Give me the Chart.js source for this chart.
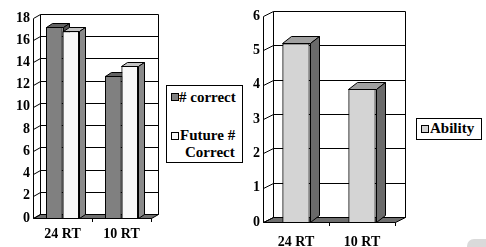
<!DOCTYPE html>
<html>
<head>
<meta charset="utf-8">
<script src="https://cdn.jsdelivr.net/npm/chart.js@4.4.1/dist/chart.umd.min.js"></script>
<style>
    body { margin: 0; width: 486px; height: 247px; background: #fff; position: relative; overflow: hidden; font-family: "Liberation Serif", "Times New Roman", serif; }
    canvas { position: absolute; top: 0; }
    #leftChart { left: 0; }
    #rightChart { left: 248px; }
    .legend { position: absolute; border: 1px solid #000; background: #fff; font-weight: bold; font-size: 15px; line-height: 17px; color: #000; }
    .legend span { position: absolute; white-space: nowrap; }
    .legend .sw { width: 6px; height: 6px; border: 1px solid #000; }
    .corner { position: absolute; left: 467px; top: 239px; width: 30px; height: 12px; background: #dadada; border-radius: 7px 0 0 0; }
</style>
</head>
<body>
<canvas id="leftChart" width="165" height="247"></canvas>
<canvas id="rightChart" width="162" height="247"></canvas>

<div class="legend" id="leftLegend" style="left:166px; top:85px; width:75px; height:76px;">
    <span class="sw" style="left:4px; top:7px; background:#808080;"></span>
    <span style="left:12px; top:3px;">#&nbsp;correct</span>
    <span class="sw" style="left:4px; top:46px; background:#f8f8f8;"></span>
    <span style="left:13px; top:41px;">Future #</span>
    <span style="left:18px; top:58px;">Correct</span>
</div>
<div class="legend" id="rightLegend" style="left:416px; top:118px; width:64px; height:20px;">
    <span class="sw" style="left:4px; top:6px; background:#d4d4d4;"></span>
    <span style="left:13px; top:1px;">Ability</span>
</div>
<div class="corner"></div>

<script>
const categories = ['24 RT', '10 RT'];
const correct = [17.2, 12.8];
const futureCorrect = [16.8, 13.7];
const ability = [5.2, 3.88];
const leftTicks = [0, 2, 4, 6, 8, 10, 12, 14, 16, 18];
const rightTicks = [0, 1, 2, 3, 4, 5, 6];

const fontFamily = '"Liberation Serif", "Times New Roman", serif';

// draws the walls, floor and the side/top faces of the bars
const threeD = {
    id: 'threeD',
    beforeDatasetsDraw(chart, args, opts) {
        const { ctx, chartArea: a, scales: { y } } = chart;
        const dx = opts.dx, dy = opts.dy;
        ctx.save();
        ctx.strokeStyle = '#000';
        ctx.lineWidth = 1;

        // floor
        ctx.fillStyle = opts.floor;
        ctx.beginPath();
        ctx.moveTo(a.left + 0.5, a.bottom + 0.5);
        ctx.lineTo(a.right + 0.5, a.bottom + 0.5);
        ctx.lineTo(a.right + dx + 0.5, a.bottom - dy + 0.5);
        ctx.lineTo(a.left + dx + 0.5, a.bottom - dy + 0.5);
        ctx.closePath();
        ctx.fill();
        ctx.stroke();

        // gridlines across side wall and back wall
        y.ticks.forEach(t => {
            const py = Math.round(y.getPixelForValue(t.value)) + 0.5;
            ctx.beginPath();
            ctx.moveTo(a.left + 0.5, py);
            ctx.lineTo(a.left + dx + 0.5, py - dy);
            ctx.lineTo(a.right + dx + 0.5, py - dy);
            ctx.stroke();
        });

        // back wall edges and front axis
        ctx.beginPath();
        ctx.moveTo(a.left + dx + 0.5, a.top - dy + 0.5);
        ctx.lineTo(a.left + dx + 0.5, a.bottom - dy + 0.5);
        ctx.moveTo(a.right + dx + 0.5, a.top - dy + 0.5);
        ctx.lineTo(a.right + dx + 0.5, a.bottom - dy + 0.5);
        ctx.moveTo(a.left + 0.5, a.top + 0.5);
        ctx.lineTo(a.left + 0.5, a.bottom + 0.5);
        ctx.stroke();
        ctx.restore();
    },
    afterDatasetsDraw(chart, args, opts) {
        const ctx = chart.ctx;
        const bdx = opts.barDx, bdy = opts.barDy;
        ctx.save();
        ctx.strokeStyle = '#000';
        ctx.lineWidth = 1;
        chart.data.datasets.forEach((ds, i) => {
            const meta = chart.getDatasetMeta(i);
            meta.data.forEach(bar => {
                bar.draw(ctx);
                const { x, y, base, width } = bar.getProps(['x', 'y', 'base', 'width'], true);
                const l = Math.round(x - width / 2) + 0.5;
                const r = Math.round(x + width / 2) + 0.5;
                const t = Math.round(y) + 0.5;
                const b = Math.round(base) + 0.5;

                ctx.fillStyle = ds.topColor;
                ctx.beginPath();
                ctx.moveTo(l, t);
                ctx.lineTo(l + bdx, t - bdy);
                ctx.lineTo(r + bdx, t - bdy);
                ctx.lineTo(r, t);
                ctx.closePath();
                ctx.fill();
                ctx.stroke();

                ctx.fillStyle = ds.sideColor;
                ctx.beginPath();
                ctx.moveTo(r, t);
                ctx.lineTo(r + bdx, t - bdy);
                ctx.lineTo(r + bdx, b - bdy);
                ctx.lineTo(r, b);
                ctx.closePath();
                ctx.fill();
                ctx.stroke();
            });
        });
        ctx.restore();
    }
};

function makeChart(id, datasets, ticks, layout) {
    const font = { family: fontFamily, size: 14, weight: 'bold' };
    return new Chart(document.getElementById(id), {
        type: 'bar',
        data: { labels: categories, datasets: datasets },
        options: {
            responsive: false,
            animation: false,
            devicePixelRatio: 1,
            layout: { padding: { top: layout.top, right: layout.right, left: 0, bottom: 0 } },
            datasets: { bar: { categoryPercentage: layout.catPct, barPercentage: 1, borderWidth: 1, borderColor: '#000' } },
            plugins: {
                legend: { display: false },
                tooltip: { enabled: false },
                threeD: { dx: layout.dx, dy: layout.dy, barDx: layout.barDx, barDy: layout.barDy, floor: '#6e6e6e' }
            },
            scales: {
                x: {
                    offset: true,
                    grid: {
                        display: true,
                        drawOnChartArea: false,
                        drawTicks: true,
                        tickLength: 4,
                        offset: true,
                        color: c => c.index === 0 ? 'rgba(0,0,0,0)' : '#000'
                    },
                    border: { display: false },
                    ticks: { color: '#000', font: font, padding: layout.xPad, maxRotation: 0, autoSkip: false },
                    afterFit: s => { s.height = layout.xHeight; }
                },
                y: {
                    min: 0,
                    max: ticks[ticks.length - 1],
                    afterBuildTicks: s => { s.ticks = ticks.map(v => ({ value: v })); },
                    grid: { display: false, drawTicks: false },
                    border: { display: false },
                    ticks: { color: '#000', font: font, padding: 3 },
                    afterFit: s => { s.width = layout.yWidth; }
                }
            }
        },
        plugins: [threeD]
    });
}

makeChart('leftChart', [
    { label: '# correct', data: correct, backgroundColor: '#808080', topColor: '#626262', sideColor: '#505050' },
    { label: 'Future # Correct', data: futureCorrect, backgroundColor: '#f8f8f8', topColor: '#c4c4c4', sideColor: '#8a8a8a' }
], leftTicks, { top: 18, right: 14, yWidth: 33, xHeight: 29, xPad: 4, catPct: 0.56, dx: 7, dy: 4, barDx: 6, barDy: 4 });

makeChart('rightChart', [
    { label: 'Ability', data: ability, backgroundColor: '#d4d4d4', topColor: '#a0a0a0', sideColor: '#6a6a6a' }
], rightTicks, { top: 16, right: 15, yWidth: 15, xHeight: 25, xPad: 8, catPct: 0.41, dx: 10, dy: 5, barDx: 9, barDy: 7 });
</script>
</body>
</html>
